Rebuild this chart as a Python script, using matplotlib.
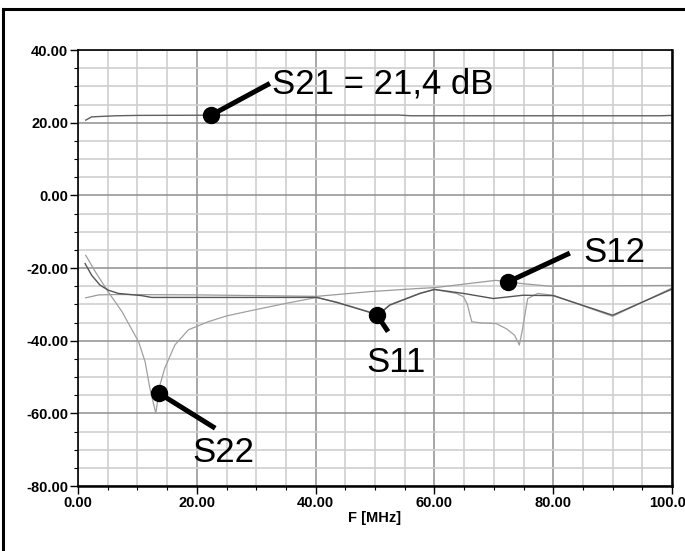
import numpy as np
import matplotlib.pyplot as plt
from matplotlib.ticker import MultipleLocator, FuncFormatter
from matplotlib.lines import Line2D
plt.switch_backend('agg')

# values, F in MHz, S-params in dB
f_s21 = [1.3, 2.3, 6.5, 10, 30, 54, 56, 98, 100]
s21 = [20.7, 21.6, 21.9, 22.0, 22.1, 22.1, 21.9, 21.9, 22.0]

f_s11 = [1.2, 2.3, 3.7, 5.1, 6.8, 10.7, 12.4, 40.2, 43.6, 48.7, 50.5, 52.5,
         57.6, 60, 64.9, 69.9, 72.7, 74.9, 80, 90, 100]
s11 = [-18.8, -22, -24.7, -26.1, -27, -27.6, -28.1, -28.1, -29.5, -32, -33, -30.2,
       -27, -25.9, -27, -28.4, -27.9, -27.5, -27.6, -33, -25.8]

f_s12 = [1.3, 3.5, 6.5, 20, 40.2, 49.2, 57.6, 60.1, 70.3, 74.8, 79.4, 100]
s12 = [-28.2, -27.4, -27.3, -27.4, -27.8, -26.5, -25.6, -25.4, -23.4, -24.3, -25, -24.8]

f_s22 = [1.3, 2.9, 5.1, 7.4, 10.2, 11.3, 12.1, 13.1, 13.8, 14.6, 16.3, 18.6,
         21.9, 25, 29.5, 35.1, 40.2, 43.6, 48.7, 50.5, 52.5, 57.6, 60, 63.7,
         64.9, 65.5, 66.3, 67.7, 70.4, 72.1, 73.5, 74.3, 74.8, 75.7, 77.4, 80, 90, 100]
s22 = [-16.5, -21, -26.6, -32, -40.3, -45.8, -53.1, -60, -52.2, -47.6, -41.2, -37,
       -34.8, -33.2, -31.6, -29.7, -28.1, -29.4, -31.9, -32.8, -30.1, -26.9, -25.9, -27,
       -27.9, -29.8, -34.8, -35.1, -35.3, -36.7, -38.5, -41.2, -37.1, -28.4, -27, -27.5, -33.3, -25.5]

labels = ['S21 = 21,4 dB', 'S12', 'S11', 'S22']
marker_f = [22.4, 72.4, 50.3, 13.6]

fig = plt.figure(figsize=(6.85, 5.51), dpi=100)
ax = fig.add_axes([78/685, 1-486/551, (672-78)/685, (486-50)/551])

ax.plot(f_s12, s12, color='#9a9a9a', lw=0.9)
ax.plot(f_s22, s22, color='#a0a0a0', lw=0.9)
ax.plot(f_s11, s11, color='#555555', lw=1.0)
ax.plot(f_s21, s21, color='#606060', lw=1.0)

ax.set_xlim(0, 100)
ax.set_ylim(-80, 40)

# grid: light every 5, darker every 20
ax.xaxis.set_major_locator(MultipleLocator(20))
ax.xaxis.set_minor_locator(MultipleLocator(5))
ax.yaxis.set_major_locator(MultipleLocator(20))
ax.yaxis.set_minor_locator(MultipleLocator(5))
ax.grid(which='minor', color='#cfcfcf', lw=1.2)
ax.grid(which='major', color='#8f8f8f', lw=1.1)
ax.set_axisbelow(True)

fmt = FuncFormatter(lambda v, pos: "%.2f" % v)
ax.xaxis.set_major_formatter(fmt)
ax.yaxis.set_major_formatter(fmt)

tickfont = ['Liberation Sans', 'DejaVu Sans']
ax.tick_params(which='major', direction='out', length=6, width=1.0, pad=1.0)
ax.tick_params(which='minor', direction='out', length=3, width=0.8)
for lab in ax.get_xticklabels() + ax.get_yticklabels():
    lab.set_family(tickfont)
    lab.set_fontweight('bold')
    lab.set_fontsize(10.5)

ax.set_xlabel('F [MHz]', family=tickfont, fontweight='bold', fontsize=10.5, labelpad=1)

for side in ['left', 'top']:
    ax.spines[side].set_linewidth(1.2)
for side in ['bottom', 'right']:
    ax.spines[side].set_linewidth(1.8)

# callouts: dot on the curve, thick arm, big label
curves = [(f_s21, s21), (f_s12, s12), (f_s11, s11), (f_s22, s22)]
arm_end = [(32.3, 30.8), (82.8, -15.9), (52.2, -37.5), (23.1, -64.1)]
text_pos = [(32.6, 28.0), (85.0, -18.4), (48.6, -48.6), (19.2, -73.4)]
for lab, mf, (cf, cv), (ex, ey), (tx, ty) in zip(labels, marker_f, curves, arm_end, text_pos):
    my = np.interp(mf, cf, cv)
    ax.plot([mf, ex], [my, ey], color='black', lw=3.6, solid_capstyle='butt', zorder=5)
    ax.plot(mf, my, 'o', color='black', ms=11.5, zorder=6)
    ax.text(tx, ty, lab, family=['Liberation Sans', 'DejaVu Sans'], fontsize=25,
            ha='left', va='baseline', zorder=7)

# frame lines of the original screenshot (top and left)
fig.add_artist(Line2D([3/685, 1], [1-9/551, 1-9/551], color='black', lw=2.2))
fig.add_artist(Line2D([3/685, 3/685], [0, 1-9/551], color='black', lw=2.2))

fig.savefig('out.png', dpi=100)
